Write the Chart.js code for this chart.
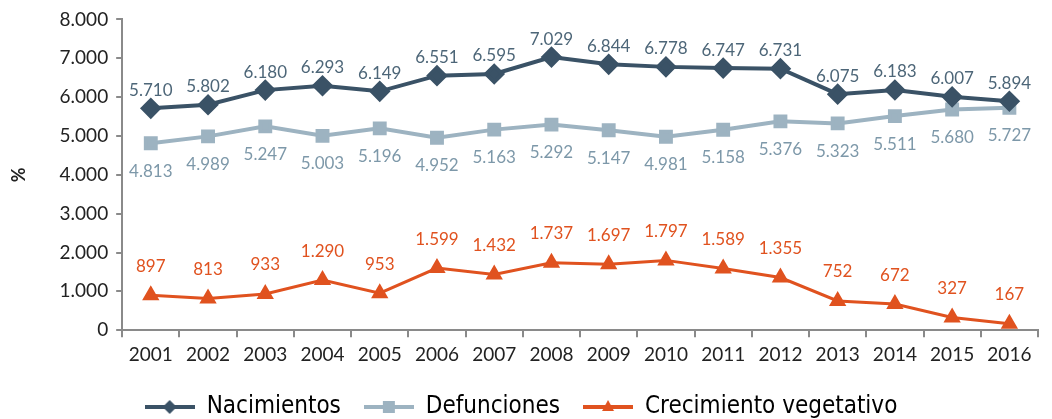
<!DOCTYPE html>
<html>
<head>
<meta charset="utf-8">
<script src="https://cdn.jsdelivr.net/npm/chart.js@4"></script>
<style>
  body { margin: 0; background: #fff; }
</style>
</head>
<body>
<canvas id="myChart" width="1052" height="419"></canvas>
<script>
const years = ['2001','2002','2003','2004','2005','2006','2007','2008','2009','2010','2011','2012','2013','2014','2015','2016'];
const nacimientos = [5710, 5802, 6180, 6293, 6149, 6551, 6595, 7029, 6844, 6778, 6747, 6731, 6075, 6183, 6007, 5894];
const defunciones = [4813, 4989, 5247, 5003, 5196, 4952, 5163, 5292, 5147, 4981, 5158, 5376, 5323, 5511, 5680, 5727];
const crecimiento = [897, 813, 933, 1290, 953, 1599, 1432, 1737, 1697, 1797, 1589, 1355, 752, 672, 327, 167];

const cNac = '#3a5266';
const cDef = '#9db3c1';
const cCre = '#e0521f';

const fmt = v => v.toLocaleString('de-DE');
const fontMain = "'Lato', 'DejaVu Sans', sans-serif";

// legend icon: line with marker in the middle
function legendIcon(color, shape) {
  const c = document.createElement('canvas');
  c.width = 50; c.height = 20;
  const g = c.getContext('2d');
  g.strokeStyle = color; g.fillStyle = color; g.lineWidth = 4;
  g.beginPath(); g.moveTo(0, 10); g.lineTo(50, 10); g.stroke();
  g.beginPath();
  if (shape === 'diamond') {
    g.moveTo(25, 3); g.lineTo(32, 10); g.lineTo(25, 17); g.lineTo(18, 10);
  } else if (shape === 'square') {
    g.rect(19, 4, 12, 12);
  } else {
    g.moveTo(25, 3); g.lineTo(31, 14); g.lineTo(19, 14);
  }
  g.closePath(); g.fill();
  return c;
}

// simple data labels
const labelPlugin = {
  id: 'valueLabels',
  afterDatasetsDraw(chart) {
    const ctx = chart.ctx;
    ctx.save();
    ctx.font = "17px " + fontMain;
    ctx.textAlign = 'center';
    ctx.textBaseline = 'middle';
    chart.data.datasets.forEach((ds, i) => {
      const meta = chart.getDatasetMeta(i);
      meta.data.forEach((pt, j) => {
        ctx.fillStyle = ds.labelColor;
        ctx.fillText(fmt(ds.data[j]), pt.x, pt.y + ds.labelOffset);
      });
    });
    ctx.restore();
  }
};

const config = {
  type: 'line',
  data: {
    labels: years,
    datasets: [{
      label: 'Nacimientos',
      data: nacimientos,
      borderColor: cNac,
      backgroundColor: cNac,
      borderWidth: 4,
      pointStyle: 'rectRot',
      pointRadius: 8,
      pointHoverRadius: 8,
      labelColor: '#4d6678',
      labelOffset: -18,
      legendIcon: legendIcon(cNac, 'diamond')
    }, {
      label: 'Defunciones',
      data: defunciones,
      borderColor: cDef,
      backgroundColor: cDef,
      borderWidth: 4,
      pointStyle: 'rect',
      pointRadius: 7,
      pointHoverRadius: 7,
      labelColor: '#7d98a9',
      labelOffset: 28,
      legendIcon: legendIcon(cDef, 'square')
    }, {
      label: 'Crecimiento vegetativo',
      data: crecimiento,
      borderColor: cCre,
      backgroundColor: cCre,
      borderWidth: 3,
      pointStyle: 'triangle',
      pointRadius: 7,
      pointHoverRadius: 7,
      labelColor: cCre,
      labelOffset: -29,
      legendIcon: legendIcon(cCre, 'triangle')
    }]
  },
  options: {
    responsive: false,
    animation: false,
    layout: { padding: { top: 18, right: 14, left: 4, bottom: -10 } },
    plugins: {
      tooltip: { enabled: false },
      legend: {
        position: 'bottom',
        labels: {
          usePointStyle: true,
          pointStyleWidth: 50,
          color: '#222',
          font: { size: 24, family: "'DejaVu Sans Condensed', 'Roboto', sans-serif" },
          padding: 23,
          generateLabels(chart) {
            return chart.data.datasets.map((ds, i) => ({
              text: ds.label,
              pointStyle: ds.legendIcon,
              fillStyle: ds.borderColor,
              strokeStyle: ds.borderColor,
              lineWidth: 0,
              datasetIndex: i,
              hidden: false
            }));
          }
        }
      }
    },
    scales: {
      x: {
        offset: true,
        grid: { drawOnChartArea: false, offset: true, tickLength: 7, color: '#8a8a8a', lineWidth: 2 },
        border: { color: '#8a8a8a', width: 2 },
        ticks: { color: '#222', font: { size: 19, family: fontMain }, padding: 6, maxRotation: 0 }
      },
      y: {
        min: 0,
        max: 8000,
        grid: { drawOnChartArea: false, tickLength: 6, color: '#8a8a8a', lineWidth: 2 },
        border: { color: '#8a8a8a', width: 2 },
        ticks: { stepSize: 1000, color: '#222', font: { size: 19, family: fontMain }, padding: 8, callback: v => fmt(v) },
        title: { display: true, text: '%', color: '#222', font: { size: 18, weight: 'bold', family: fontMain }, padding: { bottom: 22 } }
      }
    }
  },
  plugins: [labelPlugin]
};

const myChart = new Chart(document.getElementById('myChart'), config);
</script>
</body>
</html>
